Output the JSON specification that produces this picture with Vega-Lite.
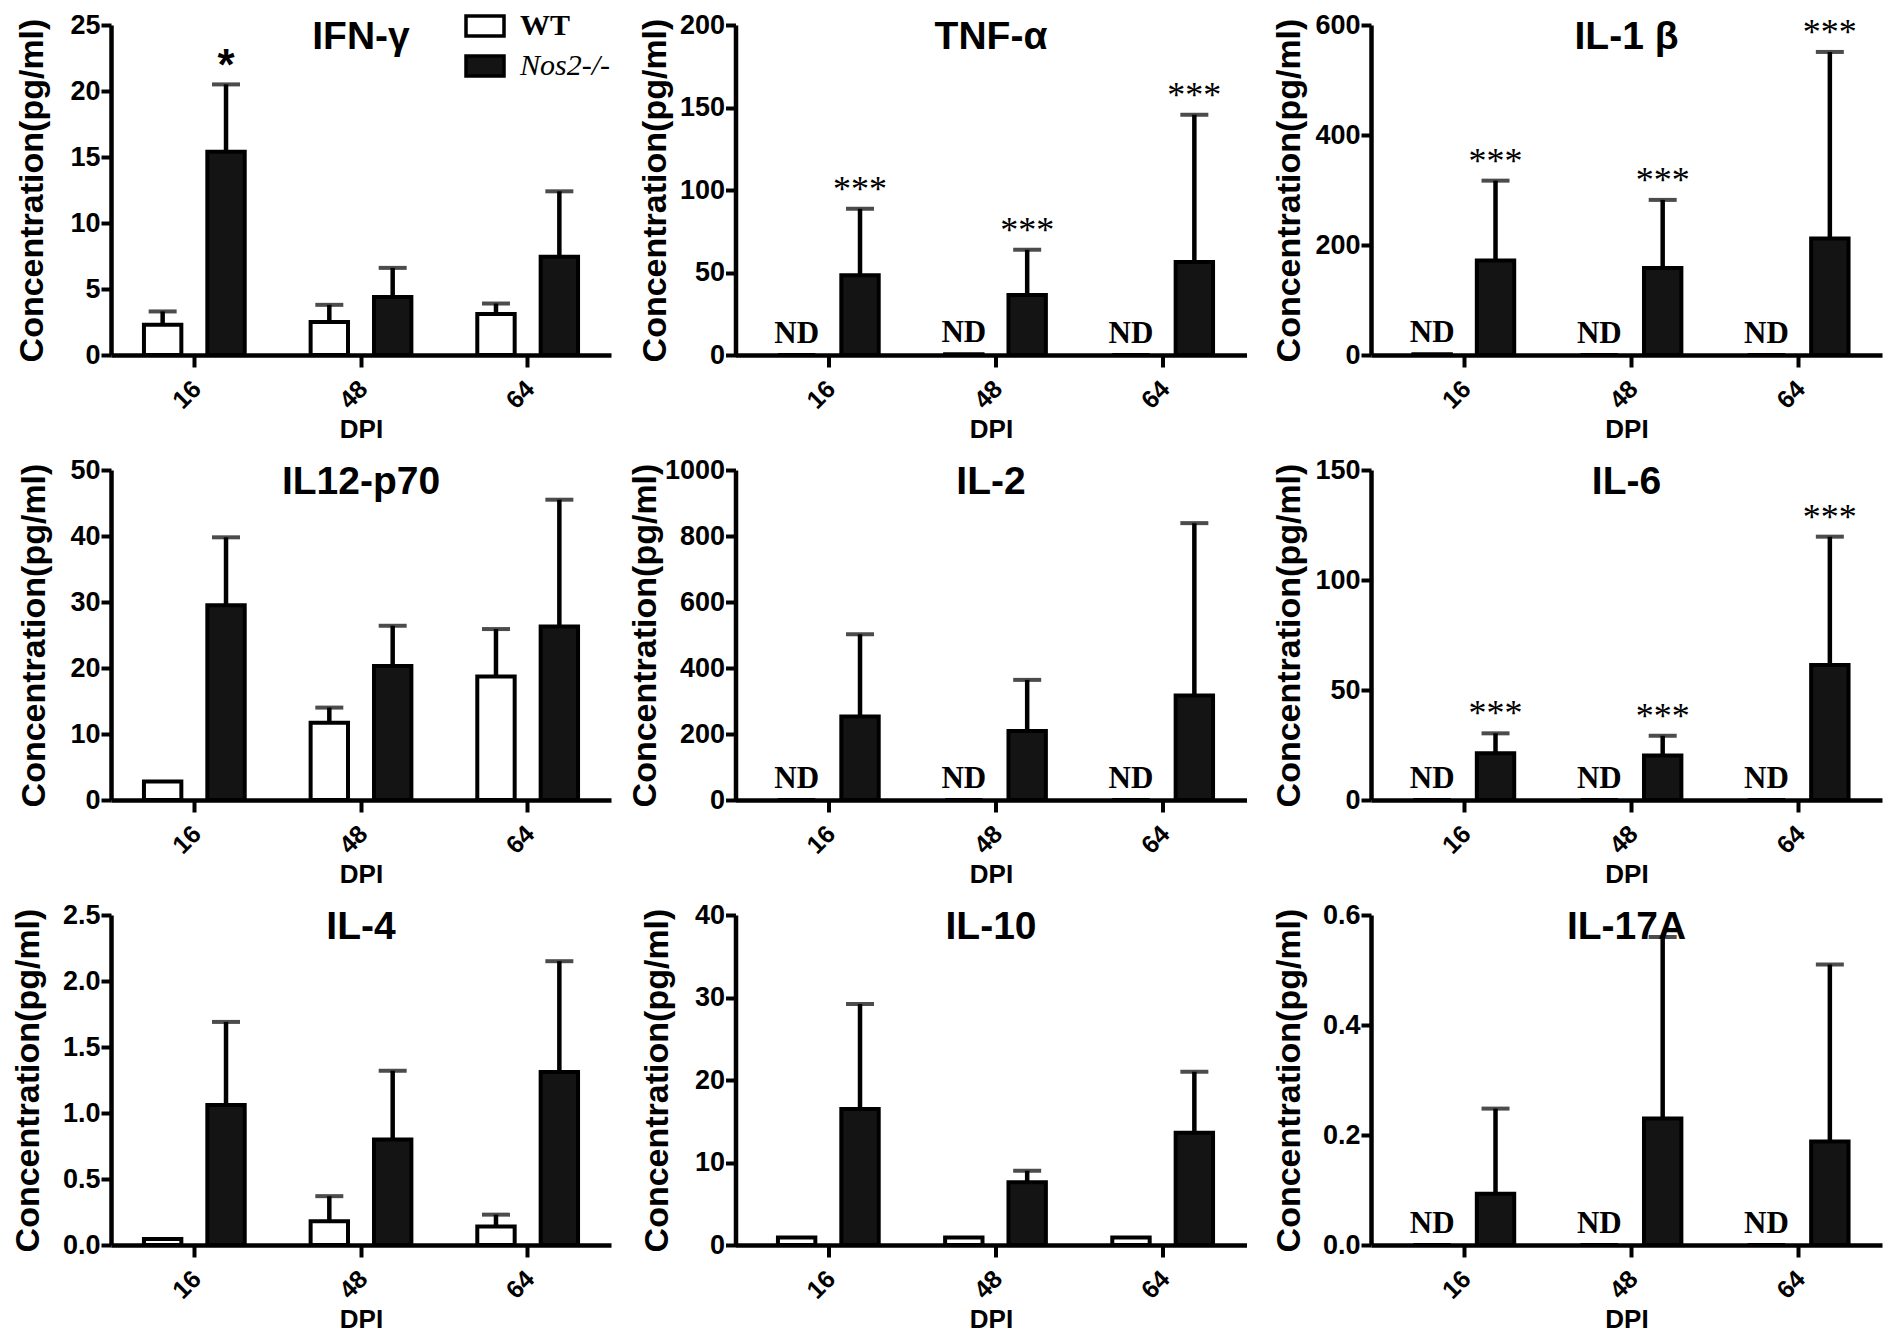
{
  "$schema": "https://vega.github.io/schema/vega-lite/v6.json",
  "padding": {"left": 10, "top": 5, "right": 2, "bottom": 2},
  "background": "white",
  "data": {
    "values": [
      {"cytokine": "IFN-γ", "dpi": "16", "group": "WT", "mean": 2.3, "upper": 3.3, "star": "", "nd": ""},
      {"cytokine": "IFN-γ", "dpi": "16", "group": "Nos2-/-", "mean": 15.4, "upper": 20.5, "star": "*", "nd": ""},
      {"cytokine": "IFN-γ", "dpi": "48", "group": "WT", "mean": 2.5, "upper": 3.8, "star": "", "nd": ""},
      {"cytokine": "IFN-γ", "dpi": "48", "group": "Nos2-/-", "mean": 4.4, "upper": 6.6, "star": "", "nd": ""},
      {"cytokine": "IFN-γ", "dpi": "64", "group": "WT", "mean": 3.1, "upper": 3.9, "star": "", "nd": ""},
      {"cytokine": "IFN-γ", "dpi": "64", "group": "Nos2-/-", "mean": 7.45, "upper": 12.4, "star": "", "nd": ""},

      {"cytokine": "TNF-α", "dpi": "16", "group": "WT", "mean": 0, "upper": null, "star": "", "nd": "ND"},
      {"cytokine": "TNF-α", "dpi": "16", "group": "Nos2-/-", "mean": 48.3, "upper": 88.6, "star": "***", "nd": ""},
      {"cytokine": "TNF-α", "dpi": "48", "group": "WT", "mean": 0.5, "upper": null, "star": "", "nd": "ND"},
      {"cytokine": "TNF-α", "dpi": "48", "group": "Nos2-/-", "mean": 36.3, "upper": 63.8, "star": "***", "nd": ""},
      {"cytokine": "TNF-α", "dpi": "64", "group": "WT", "mean": 0, "upper": null, "star": "", "nd": "ND"},
      {"cytokine": "TNF-α", "dpi": "64", "group": "Nos2-/-", "mean": 56.4, "upper": 145.6, "star": "***", "nd": ""},

      {"cytokine": "IL-1 β", "dpi": "16", "group": "WT", "mean": 1.5, "upper": null, "star": "", "nd": "ND"},
      {"cytokine": "IL-1 β", "dpi": "16", "group": "Nos2-/-", "mean": 172, "upper": 317, "star": "***", "nd": ""},
      {"cytokine": "IL-1 β", "dpi": "48", "group": "WT", "mean": 0, "upper": null, "star": "", "nd": "ND"},
      {"cytokine": "IL-1 β", "dpi": "48", "group": "Nos2-/-", "mean": 158, "upper": 282, "star": "***", "nd": ""},
      {"cytokine": "IL-1 β", "dpi": "64", "group": "WT", "mean": 0, "upper": null, "star": "", "nd": "ND"},
      {"cytokine": "IL-1 β", "dpi": "64", "group": "Nos2-/-", "mean": 212, "upper": 551, "star": "***", "nd": ""},

      {"cytokine": "IL12-p70", "dpi": "16", "group": "WT", "mean": 2.8, "upper": null, "star": "", "nd": ""},
      {"cytokine": "IL12-p70", "dpi": "16", "group": "Nos2-/-", "mean": 29.5, "upper": 39.8, "star": "", "nd": ""},
      {"cytokine": "IL12-p70", "dpi": "48", "group": "WT", "mean": 11.7, "upper": 14.0, "star": "", "nd": ""},
      {"cytokine": "IL12-p70", "dpi": "48", "group": "Nos2-/-", "mean": 20.3, "upper": 26.4, "star": "", "nd": ""},
      {"cytokine": "IL12-p70", "dpi": "64", "group": "WT", "mean": 18.7, "upper": 25.9, "star": "", "nd": ""},
      {"cytokine": "IL12-p70", "dpi": "64", "group": "Nos2-/-", "mean": 26.3, "upper": 45.5, "star": "", "nd": ""},

      {"cytokine": "IL-2", "dpi": "16", "group": "WT", "mean": 0, "upper": null, "star": "", "nd": "ND"},
      {"cytokine": "IL-2", "dpi": "16", "group": "Nos2-/-", "mean": 253, "upper": 502, "star": "", "nd": ""},
      {"cytokine": "IL-2", "dpi": "48", "group": "WT", "mean": 0, "upper": null, "star": "", "nd": "ND"},
      {"cytokine": "IL-2", "dpi": "48", "group": "Nos2-/-", "mean": 209, "upper": 364, "star": "", "nd": ""},
      {"cytokine": "IL-2", "dpi": "64", "group": "WT", "mean": 0, "upper": null, "star": "", "nd": "ND"},
      {"cytokine": "IL-2", "dpi": "64", "group": "Nos2-/-", "mean": 317, "upper": 839, "star": "", "nd": ""},

      {"cytokine": "IL-6", "dpi": "16", "group": "WT", "mean": 0, "upper": null, "star": "", "nd": "ND"},
      {"cytokine": "IL-6", "dpi": "16", "group": "Nos2-/-", "mean": 21.2, "upper": 30.3, "star": "***", "nd": ""},
      {"cytokine": "IL-6", "dpi": "48", "group": "WT", "mean": 0, "upper": null, "star": "", "nd": "ND"},
      {"cytokine": "IL-6", "dpi": "48", "group": "Nos2-/-", "mean": 20.2, "upper": 29.2, "star": "***", "nd": ""},
      {"cytokine": "IL-6", "dpi": "64", "group": "WT", "mean": 0, "upper": null, "star": "", "nd": "ND"},
      {"cytokine": "IL-6", "dpi": "64", "group": "Nos2-/-", "mean": 61.4, "upper": 119.7, "star": "***", "nd": ""},

      {"cytokine": "IL-4", "dpi": "16", "group": "WT", "mean": 0.045, "upper": null, "star": "", "nd": ""},
      {"cytokine": "IL-4", "dpi": "16", "group": "Nos2-/-", "mean": 1.06, "upper": 1.69, "star": "", "nd": ""},
      {"cytokine": "IL-4", "dpi": "48", "group": "WT", "mean": 0.18, "upper": 0.37, "star": "", "nd": ""},
      {"cytokine": "IL-4", "dpi": "48", "group": "Nos2-/-", "mean": 0.8, "upper": 1.32, "star": "", "nd": ""},
      {"cytokine": "IL-4", "dpi": "64", "group": "WT", "mean": 0.14, "upper": 0.23, "star": "", "nd": ""},
      {"cytokine": "IL-4", "dpi": "64", "group": "Nos2-/-", "mean": 1.31, "upper": 2.15, "star": "", "nd": ""},

      {"cytokine": "IL-10", "dpi": "16", "group": "WT", "mean": 0.9, "upper": null, "star": "", "nd": ""},
      {"cytokine": "IL-10", "dpi": "16", "group": "Nos2-/-", "mean": 16.5, "upper": 29.2, "star": "", "nd": ""},
      {"cytokine": "IL-10", "dpi": "48", "group": "WT", "mean": 0.9, "upper": null, "star": "", "nd": ""},
      {"cytokine": "IL-10", "dpi": "48", "group": "Nos2-/-", "mean": 7.6, "upper": 9.0, "star": "", "nd": ""},
      {"cytokine": "IL-10", "dpi": "64", "group": "WT", "mean": 0.9, "upper": null, "star": "", "nd": ""},
      {"cytokine": "IL-10", "dpi": "64", "group": "Nos2-/-", "mean": 13.6, "upper": 21.0, "star": "", "nd": ""},

      {"cytokine": "IL-17A", "dpi": "16", "group": "WT", "mean": 0, "upper": null, "star": "", "nd": "ND"},
      {"cytokine": "IL-17A", "dpi": "16", "group": "Nos2-/-", "mean": 0.093, "upper": 0.248, "star": "", "nd": ""},
      {"cytokine": "IL-17A", "dpi": "48", "group": "WT", "mean": 0, "upper": null, "star": "", "nd": "ND"},
      {"cytokine": "IL-17A", "dpi": "48", "group": "Nos2-/-", "mean": 0.23, "upper": 0.56, "star": "", "nd": ""},
      {"cytokine": "IL-17A", "dpi": "64", "group": "WT", "mean": 0, "upper": null, "star": "", "nd": "ND"},
      {"cytokine": "IL-17A", "dpi": "64", "group": "Nos2-/-", "mean": 0.188, "upper": 0.51, "star": "", "nd": ""}
    ]
  },
  "columns": 3,
  "bounds": "flush",
  "spacing": {"row": 115, "column": 124.5},
  "concat": [
    {
      "title": "IFN-γ",
      "width": 500, "height": 330,
      "transform": [{"filter": "datum.cytokine === 'IFN-γ'"}],
      "encoding": {
        "x": {"field": "dpi", "type": "nominal", "sort": ["16", "48", "64"], "scale": {"paddingInner": 0, "paddingOuter": 0}, "title": "DPI"},
        "xOffset": {"field": "group", "type": "nominal", "sort": ["WT", "Nos2-/-"], "scale": {"paddingInner": 0.41, "paddingOuter": 0.52}}
      },
      "layer": [
        {"mark": {"type": "bar", "stroke": "black", "strokeWidth": 4},
         "encoding": {
           "y": {"field": "mean", "type": "quantitative", "title": "Concentration(pg/ml)", "scale": {"domain": [0, 25], "nice": false}, "axis": {"values": [0, 5, 10, 15, 20, 25], "titleX": -79}},
           "fill": {"field": "group", "type": "nominal", "sort": ["WT", "Nos2-/-"], "scale": {"domain": ["WT", "Nos2-/-"], "range": ["white", "#141414"]},
             "legend": {"title": null, "orient": "none", "legendX": 353, "legendY": -20, "symbolType": "M-1,-0.526H1V0.526H-1Z", "symbolSize": 1444, "symbolStrokeColor": "black", "symbolStrokeWidth": 3.5, "symbolOpacity": 1, "labelFont": "Liberation Serif", "labelFontSize": 30, "labelColor": "black", "labelOffset": 14, "rowPadding": 2,
               "encode": {"labels": {"update": {"fontStyle": {"signal": "datum.label === 'Nos2-/-' ? 'italic' : 'normal'"}, "fontWeight": {"signal": "datum.label === 'Nos2-/-' ? 'normal' : 'bold'"}}}}}}
         }},
        {"transform": [{"filter": "isValid(datum.upper)"}], "mark": {"type": "rule", "strokeWidth": 4.5},
         "encoding": {"y": {"field": "mean", "type": "quantitative", "title": "Concentration(pg/ml)"}, "y2": {"field": "upper"}}},
        {"transform": [{"filter": "isValid(datum.upper)"}], "mark": {"type": "tick", "thickness": 4, "size": 28},
         "encoding": {"y": {"field": "upper", "type": "quantitative", "title": "Concentration(pg/ml)"}}},
        {"transform": [{"filter": "datum.star !== ''"}], "mark": {"type": "text", "font": "Liberation Sans", "fontWeight": "bold", "fontSize": 44, "baseline": "alphabetic", "dy": -4},
         "encoding": {"y": {"field": "upper", "type": "quantitative", "title": "Concentration(pg/ml)"}, "text": {"field": "star"}}}
      ]
    },
    {
      "title": "TNF-α",
      "width": 511, "height": 330,
      "transform": [{"filter": "datum.cytokine === 'TNF-α'"}],
      "encoding": {
        "x": {"field": "dpi", "type": "nominal", "sort": ["16", "48", "64"], "scale": {"paddingInner": 0, "paddingOuter": 0.0284, "align": 1}, "title": "DPI"},
        "xOffset": {"field": "group", "type": "nominal", "sort": ["WT", "Nos2-/-"], "scale": {"paddingInner": 0.41, "paddingOuter": 0.52}}
      },
      "layer": [
        {"mark": {"type": "bar", "stroke": "black", "strokeWidth": 4},
         "encoding": {
           "y": {"field": "mean", "type": "quantitative", "title": "Concentration(pg/ml)", "scale": {"domain": [0, 200], "nice": false}, "axis": {"values": [0, 50, 100, 150, 200], "titleX": -80}},
           "fill": {"field": "group", "type": "nominal", "sort": ["WT", "Nos2-/-"], "legend": null}
         }},
        {"transform": [{"filter": "isValid(datum.upper)"}], "mark": {"type": "rule", "strokeWidth": 4.5},
         "encoding": {"y": {"field": "mean", "type": "quantitative", "title": "Concentration(pg/ml)"}, "y2": {"field": "upper"}}},
        {"transform": [{"filter": "isValid(datum.upper)"}], "mark": {"type": "tick", "thickness": 4, "size": 28},
         "encoding": {"y": {"field": "upper", "type": "quantitative", "title": "Concentration(pg/ml)"}}},
        {"transform": [{"filter": "datum.star !== ''"}], "mark": {"type": "text", "font": "Liberation Serif", "fontSize": 36, "baseline": "alphabetic", "dy": -8},
         "encoding": {"y": {"field": "upper", "type": "quantitative", "title": "Concentration(pg/ml)"}, "text": {"field": "star"}}},
        {"transform": [{"filter": "datum.nd !== ''"}], "mark": {"type": "text", "font": "Liberation Serif", "fontWeight": "bold", "fontSize": 31, "baseline": "alphabetic", "dy": -12},
         "encoding": {"y": {"field": "mean", "type": "quantitative", "title": "Concentration(pg/ml)"}, "text": {"field": "nd"}}}
      ]
    },
    {
      "title": "IL-1 β",
      "width": 511, "height": 330,
      "transform": [{"filter": "datum.cytokine === 'IL-1 β'"}],
      "encoding": {
        "x": {"field": "dpi", "type": "nominal", "sort": ["16", "48", "64"], "scale": {"paddingInner": 0, "paddingOuter": 0.0284, "align": 1}, "title": "DPI"},
        "xOffset": {"field": "group", "type": "nominal", "sort": ["WT", "Nos2-/-"], "scale": {"paddingInner": 0.41, "paddingOuter": 0.52}}
      },
      "layer": [
        {"mark": {"type": "bar", "stroke": "black", "strokeWidth": 4},
         "encoding": {
           "y": {"field": "mean", "type": "quantitative", "title": "Concentration(pg/ml)", "scale": {"domain": [0, 600], "nice": false}, "axis": {"values": [0, 200, 400, 600], "titleX": -82}},
           "fill": {"field": "group", "type": "nominal", "sort": ["WT", "Nos2-/-"], "legend": null}
         }},
        {"transform": [{"filter": "isValid(datum.upper)"}], "mark": {"type": "rule", "strokeWidth": 4.5},
         "encoding": {"y": {"field": "mean", "type": "quantitative", "title": "Concentration(pg/ml)"}, "y2": {"field": "upper"}}},
        {"transform": [{"filter": "isValid(datum.upper)"}], "mark": {"type": "tick", "thickness": 4, "size": 28},
         "encoding": {"y": {"field": "upper", "type": "quantitative", "title": "Concentration(pg/ml)"}}},
        {"transform": [{"filter": "datum.star !== ''"}], "mark": {"type": "text", "font": "Liberation Serif", "fontSize": 36, "baseline": "alphabetic", "dy": -8},
         "encoding": {"y": {"field": "upper", "type": "quantitative", "title": "Concentration(pg/ml)"}, "text": {"field": "star"}}},
        {"transform": [{"filter": "datum.nd !== ''"}], "mark": {"type": "text", "font": "Liberation Serif", "fontWeight": "bold", "fontSize": 31, "baseline": "alphabetic", "dy": -12},
         "encoding": {"y": {"field": "mean", "type": "quantitative", "title": "Concentration(pg/ml)"}, "text": {"field": "nd"}}}
      ]
    },
    {
      "title": "IL12-p70",
      "width": 500, "height": 330,
      "transform": [{"filter": "datum.cytokine === 'IL12-p70'"}],
      "encoding": {
        "x": {"field": "dpi", "type": "nominal", "sort": ["16", "48", "64"], "scale": {"paddingInner": 0, "paddingOuter": 0}, "title": "DPI"},
        "xOffset": {"field": "group", "type": "nominal", "sort": ["WT", "Nos2-/-"], "scale": {"paddingInner": 0.41, "paddingOuter": 0.52}}
      },
      "layer": [
        {"mark": {"type": "bar", "stroke": "black", "strokeWidth": 4},
         "encoding": {
           "y": {"field": "mean", "type": "quantitative", "title": "Concentration(pg/ml)", "scale": {"domain": [0, 50], "nice": false}, "axis": {"values": [0, 10, 20, 30, 40, 50], "titleX": -77}},
           "fill": {"field": "group", "type": "nominal", "sort": ["WT", "Nos2-/-"], "legend": null}
         }},
        {"transform": [{"filter": "isValid(datum.upper)"}], "mark": {"type": "rule", "strokeWidth": 4.5},
         "encoding": {"y": {"field": "mean", "type": "quantitative", "title": "Concentration(pg/ml)"}, "y2": {"field": "upper"}}},
        {"transform": [{"filter": "isValid(datum.upper)"}], "mark": {"type": "tick", "thickness": 4, "size": 28},
         "encoding": {"y": {"field": "upper", "type": "quantitative", "title": "Concentration(pg/ml)"}}}
      ]
    },
    {
      "title": "IL-2",
      "width": 511, "height": 330,
      "transform": [{"filter": "datum.cytokine === 'IL-2'"}],
      "encoding": {
        "x": {"field": "dpi", "type": "nominal", "sort": ["16", "48", "64"], "scale": {"paddingInner": 0, "paddingOuter": 0.0284, "align": 1}, "title": "DPI"},
        "xOffset": {"field": "group", "type": "nominal", "sort": ["WT", "Nos2-/-"], "scale": {"paddingInner": 0.41, "paddingOuter": 0.52}}
      },
      "layer": [
        {"mark": {"type": "bar", "stroke": "black", "strokeWidth": 4},
         "encoding": {
           "y": {"field": "mean", "type": "quantitative", "title": "Concentration(pg/ml)", "scale": {"domain": [0, 1000], "nice": false}, "axis": {"values": [0, 200, 400, 600, 800, 1000], "format": "d", "titleX": -90}},
           "fill": {"field": "group", "type": "nominal", "sort": ["WT", "Nos2-/-"], "legend": null}
         }},
        {"transform": [{"filter": "isValid(datum.upper)"}], "mark": {"type": "rule", "strokeWidth": 4.5},
         "encoding": {"y": {"field": "mean", "type": "quantitative", "title": "Concentration(pg/ml)"}, "y2": {"field": "upper"}}},
        {"transform": [{"filter": "isValid(datum.upper)"}], "mark": {"type": "tick", "thickness": 4, "size": 28},
         "encoding": {"y": {"field": "upper", "type": "quantitative", "title": "Concentration(pg/ml)"}}},
        {"transform": [{"filter": "datum.nd !== ''"}], "mark": {"type": "text", "font": "Liberation Serif", "fontWeight": "bold", "fontSize": 31, "baseline": "alphabetic", "dy": -12},
         "encoding": {"y": {"field": "mean", "type": "quantitative", "title": "Concentration(pg/ml)"}, "text": {"field": "nd"}}}
      ]
    },
    {
      "title": "IL-6",
      "width": 511, "height": 330,
      "transform": [{"filter": "datum.cytokine === 'IL-6'"}],
      "encoding": {
        "x": {"field": "dpi", "type": "nominal", "sort": ["16", "48", "64"], "scale": {"paddingInner": 0, "paddingOuter": 0.0284, "align": 1}, "title": "DPI"},
        "xOffset": {"field": "group", "type": "nominal", "sort": ["WT", "Nos2-/-"], "scale": {"paddingInner": 0.41, "paddingOuter": 0.52}}
      },
      "layer": [
        {"mark": {"type": "bar", "stroke": "black", "strokeWidth": 4},
         "encoding": {
           "y": {"field": "mean", "type": "quantitative", "title": "Concentration(pg/ml)", "scale": {"domain": [0, 150], "nice": false}, "axis": {"values": [0, 50, 100, 150], "titleX": -82}},
           "fill": {"field": "group", "type": "nominal", "sort": ["WT", "Nos2-/-"], "legend": null}
         }},
        {"transform": [{"filter": "isValid(datum.upper)"}], "mark": {"type": "rule", "strokeWidth": 4.5},
         "encoding": {"y": {"field": "mean", "type": "quantitative", "title": "Concentration(pg/ml)"}, "y2": {"field": "upper"}}},
        {"transform": [{"filter": "isValid(datum.upper)"}], "mark": {"type": "tick", "thickness": 4, "size": 28},
         "encoding": {"y": {"field": "upper", "type": "quantitative", "title": "Concentration(pg/ml)"}}},
        {"transform": [{"filter": "datum.star !== ''"}], "mark": {"type": "text", "font": "Liberation Serif", "fontSize": 36, "baseline": "alphabetic", "dy": -8},
         "encoding": {"y": {"field": "upper", "type": "quantitative", "title": "Concentration(pg/ml)"}, "text": {"field": "star"}}},
        {"transform": [{"filter": "datum.nd !== ''"}], "mark": {"type": "text", "font": "Liberation Serif", "fontWeight": "bold", "fontSize": 31, "baseline": "alphabetic", "dy": -12},
         "encoding": {"y": {"field": "mean", "type": "quantitative", "title": "Concentration(pg/ml)"}, "text": {"field": "nd"}}}
      ]
    },
    {
      "title": "IL-4",
      "width": 500, "height": 330,
      "transform": [{"filter": "datum.cytokine === 'IL-4'"}],
      "encoding": {
        "x": {"field": "dpi", "type": "nominal", "sort": ["16", "48", "64"], "scale": {"paddingInner": 0, "paddingOuter": 0}, "title": "DPI"},
        "xOffset": {"field": "group", "type": "nominal", "sort": ["WT", "Nos2-/-"], "scale": {"paddingInner": 0.41, "paddingOuter": 0.52}}
      },
      "layer": [
        {"mark": {"type": "bar", "stroke": "black", "strokeWidth": 4},
         "encoding": {
           "y": {"field": "mean", "type": "quantitative", "title": "Concentration(pg/ml)", "scale": {"domain": [0, 2.5], "nice": false}, "axis": {"values": [0, 0.5, 1, 1.5, 2, 2.5], "format": ".1f", "titleX": -83}},
           "fill": {"field": "group", "type": "nominal", "sort": ["WT", "Nos2-/-"], "legend": null}
         }},
        {"transform": [{"filter": "isValid(datum.upper)"}], "mark": {"type": "rule", "strokeWidth": 4.5},
         "encoding": {"y": {"field": "mean", "type": "quantitative", "title": "Concentration(pg/ml)"}, "y2": {"field": "upper"}}},
        {"transform": [{"filter": "isValid(datum.upper)"}], "mark": {"type": "tick", "thickness": 4, "size": 28},
         "encoding": {"y": {"field": "upper", "type": "quantitative", "title": "Concentration(pg/ml)"}}}
      ]
    },
    {
      "title": "IL-10",
      "width": 511, "height": 330,
      "transform": [{"filter": "datum.cytokine === 'IL-10'"}],
      "encoding": {
        "x": {"field": "dpi", "type": "nominal", "sort": ["16", "48", "64"], "scale": {"paddingInner": 0, "paddingOuter": 0.0284, "align": 1}, "title": "DPI"},
        "xOffset": {"field": "group", "type": "nominal", "sort": ["WT", "Nos2-/-"], "scale": {"paddingInner": 0.41, "paddingOuter": 0.52}}
      },
      "layer": [
        {"mark": {"type": "bar", "stroke": "black", "strokeWidth": 4},
         "encoding": {
           "y": {"field": "mean", "type": "quantitative", "title": "Concentration(pg/ml)", "scale": {"domain": [0, 40], "nice": false}, "axis": {"values": [0, 10, 20, 30, 40], "titleX": -78}},
           "fill": {"field": "group", "type": "nominal", "sort": ["WT", "Nos2-/-"], "legend": null}
         }},
        {"transform": [{"filter": "isValid(datum.upper)"}], "mark": {"type": "rule", "strokeWidth": 4.5},
         "encoding": {"y": {"field": "mean", "type": "quantitative", "title": "Concentration(pg/ml)"}, "y2": {"field": "upper"}}},
        {"transform": [{"filter": "isValid(datum.upper)"}], "mark": {"type": "tick", "thickness": 4, "size": 28},
         "encoding": {"y": {"field": "upper", "type": "quantitative", "title": "Concentration(pg/ml)"}}}
      ]
    },
    {
      "title": "IL-17A",
      "width": 511, "height": 330,
      "transform": [{"filter": "datum.cytokine === 'IL-17A'"}],
      "encoding": {
        "x": {"field": "dpi", "type": "nominal", "sort": ["16", "48", "64"], "scale": {"paddingInner": 0, "paddingOuter": 0.0284, "align": 1}, "title": "DPI"},
        "xOffset": {"field": "group", "type": "nominal", "sort": ["WT", "Nos2-/-"], "scale": {"paddingInner": 0.41, "paddingOuter": 0.52}}
      },
      "layer": [
        {"mark": {"type": "bar", "stroke": "black", "strokeWidth": 4},
         "encoding": {
           "y": {"field": "mean", "type": "quantitative", "title": "Concentration(pg/ml)", "scale": {"domain": [0, 0.6], "nice": false}, "axis": {"values": [0, 0.2, 0.4, 0.6], "format": ".1f", "titleX": -82}},
           "fill": {"field": "group", "type": "nominal", "sort": ["WT", "Nos2-/-"], "legend": null}
         }},
        {"transform": [{"filter": "isValid(datum.upper)"}], "mark": {"type": "rule", "strokeWidth": 4.5},
         "encoding": {"y": {"field": "mean", "type": "quantitative", "title": "Concentration(pg/ml)"}, "y2": {"field": "upper"}}},
        {"transform": [{"filter": "isValid(datum.upper)"}], "mark": {"type": "tick", "thickness": 4, "size": 28},
         "encoding": {"y": {"field": "upper", "type": "quantitative", "title": "Concentration(pg/ml)"}}},
        {"transform": [{"filter": "datum.nd !== ''"}], "mark": {"type": "text", "font": "Liberation Serif", "fontWeight": "bold", "fontSize": 31, "baseline": "alphabetic", "dy": -12},
         "encoding": {"y": {"field": "mean", "type": "quantitative", "title": "Concentration(pg/ml)"}, "text": {"field": "nd"}}}
      ]
    }
  ],
  "config": {
    "view": {"stroke": null},
    "mark": {"color": "black"},
    "title": {"font": "Liberation Sans", "fontSize": 39, "fontWeight": "bold", "color": "black", "anchor": "middle", "baseline": "top", "offset": -46},
    "axis": {"grid": false, "domainColor": "black", "domainWidth": 4.5, "tickColor": "black", "tickWidth": 4, "labelFont": "Liberation Sans", "labelFontWeight": "bold", "labelColor": "black", "titleFont": "Liberation Sans", "titleFontWeight": "bold", "titleColor": "black"},
    "axisY": {"tickSize": 10, "labelPadding": 1, "labelFontSize": 27, "titleFontSize": 34, "titleY": 165, "titleBaseline": "middle"},
    "axisX": {"tickSize": 12, "labelAngle": -45, "labelFontSize": 25, "labelPadding": 9, "labelOffset": -6, "titleFontSize": 26, "titlePadding": 3}
  }
}
